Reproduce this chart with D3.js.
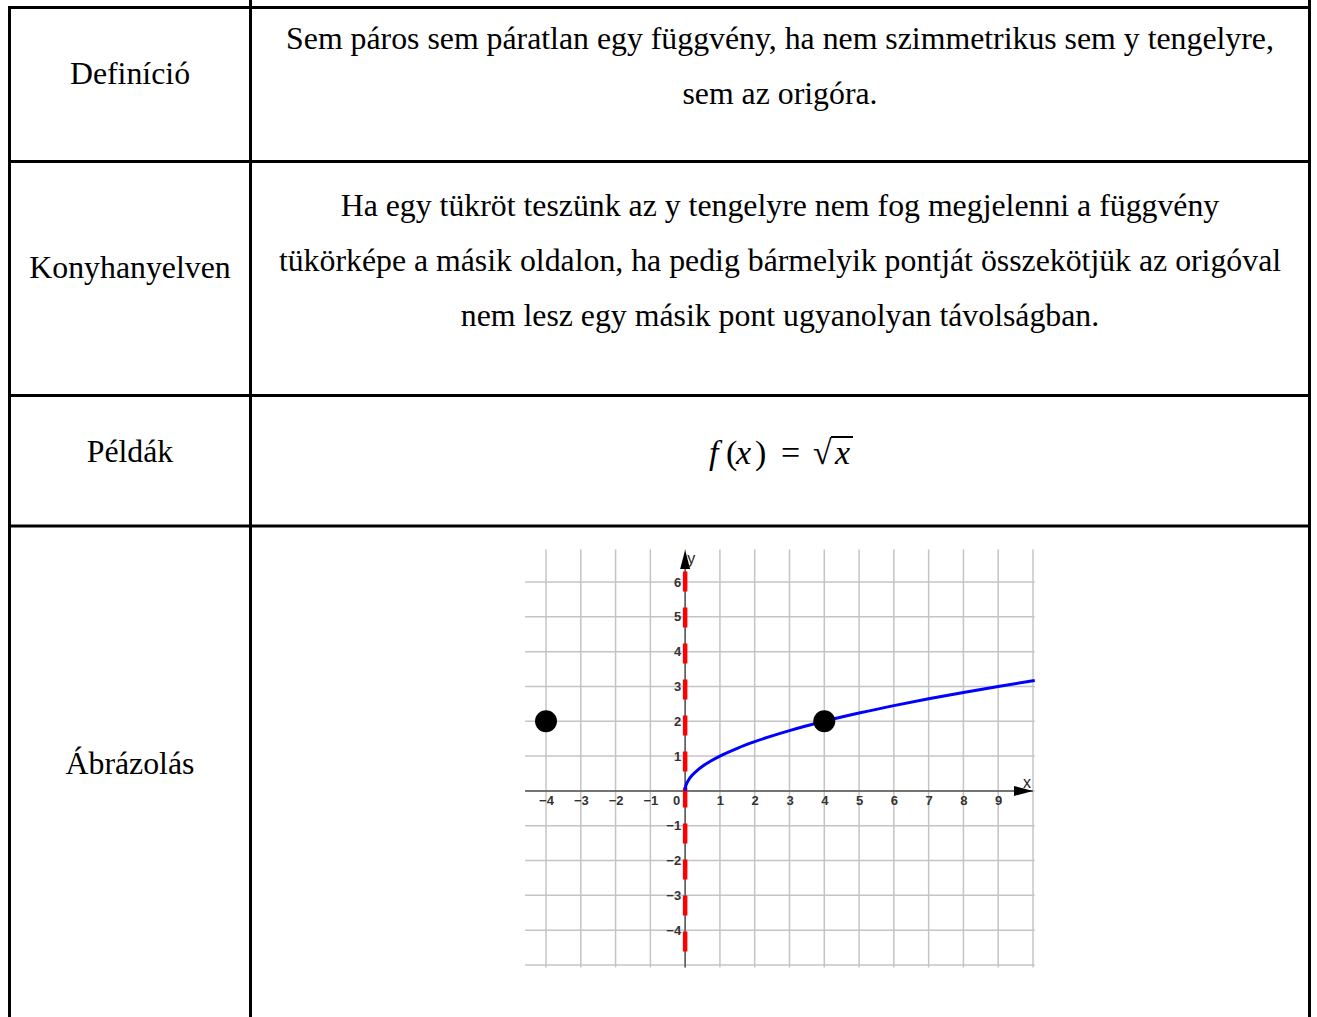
<!DOCTYPE html>
<html>
<head>
<meta charset="utf-8">
<script src="https://cdn.jsdelivr.net/npm/d3@7"></script>
<style>
  body { margin: 0; background: white; }
</style>
</head>
<body>
<div id="canvas"></div>
<script>
var w = 1317;
var h = 1017;

// table contents
var rowLabels = ["Definíció", "Konyhanyelven", "Példák", "Ábrázolás"];
var defLines = [
    "Sem páros sem páratlan egy függvény, ha nem szimmetrikus sem y tengelyre,",
    "sem az origóra."
];
var kitchenLines = [
    "Ha egy tükröt teszünk az y tengelyre nem fog megjelenni a függvény",
    "tükörképe a másik oldalon, ha pedig bármelyik pontját összekötjük az origóval",
    "nem lesz egy másik pont ugyanolyan távolságban."
];

// graph data
var xGrid = [-4, -3, -2, -1, 0, 1, 2, 3, 4, 5, 6, 7, 8, 9, 10];
var yGrid = [-5, -4, -3, -2, -1, 0, 1, 2, 3, 4, 5, 6];
var xTickLabels = [-4, -3, -2, -1, 0, 1, 2, 3, 4, 5, 6, 7, 8, 9];
var yTickLabels = [-4, -3, -2, -1, 1, 2, 3, 4, 5, 6];
var curveX = [0, 0.01, 0.05, 0.1, 0.2, 0.35, 0.5, 0.75, 1, 1.5, 2, 2.5, 3, 4, 5, 6, 7, 8, 9, 10, 10.05];
var dots = [{ x: -4, y: 2 }, { x: 4, y: 2 }];
var redLine = [6.3, -4.8];

var canvas = d3.select("#canvas")
    .append("svg")
    .attr("width", w)
    .attr("height", h)
    .style("background-color", "white");

var serif = "'Liberation Serif', 'Times New Roman', serif";
var fs = 31.8;

// table frame
var rowY = [7.5, 161.5, 395.5, 526];
var colX = [9.5, 250.5, 1309.5];

canvas.selectAll(".hline")
    .data(rowY)
    .join("line")
    .attr("class", "hline")
    .attr("x1", 8).attr("x2", 1311)
    .attr("y1", d => d).attr("y2", d => d)
    .attr("stroke", "black")
    .attr("stroke-width", 3);

canvas.selectAll(".vline")
    .data(colX)
    .join("line")
    .attr("class", "vline")
    .attr("x1", d => d).attr("x2", d => d)
    .attr("y1", (d, i) => i == 0 ? 6 : 0)
    .attr("y2", h)
    .attr("stroke", "black")
    .attr("stroke-width", 3);

function addText(x, y, text, size, anchor) {
    return canvas.append("text")
        .attr("x", x)
        .attr("y", y)
        .text(text)
        .attr("font-family", serif)
        .attr("font-size", size)
        .attr("text-anchor", anchor)
        .attr("fill", "black");
}

// left column labels
var labelY = [84, 278, 462, 774];
rowLabels.forEach(function (t, i) {
    addText(130, labelY[i], t, fs, "middle");
});

// right column text
defLines.forEach(function (t, i) {
    addText(780, 49 + i * 55, t, fs, "middle");
});
kitchenLines.forEach(function (t, i) {
    addText(780, 216 + i * 55, t, fs, "middle");
});

// formula f(x) = sqrt(x), glyph by glyph like the equation editor
var formulaParts = [
    { t: "f", x: 709, it: true },
    { t: "(", x: 726, it: false },
    { t: "x", x: 736, it: true },
    { t: ")", x: 755, it: false },
    { t: "=", x: 781, it: false },
    { t: "√", x: 813, it: false },
    { t: "x", x: 835, it: true }
];
formulaParts.forEach(function (p) {
    canvas.append("text")
        .attr("x", p.x)
        .attr("y", 464)
        .text(p.t)
        .attr("font-family", serif)
        .attr("font-size", 34)
        .attr("font-style", p.it ? "italic" : "normal")
        .attr("fill", "black");
});
canvas.append("line")
    .attr("x1", 831).attr("x2", 853)
    .attr("y1", 437).attr("y2", 437)
    .attr("stroke", "black")
    .attr("stroke-width", 2);

// graph
var x = d3.scaleLinear().domain([-4, 10]).range([546, 1033]);
var y = d3.scaleLinear().domain([-5, 6]).range([965, 582]);

var g = canvas.append("g");

g.selectAll(".gx")
    .data(xGrid)
    .join("line")
    .attr("x1", d => x(d)).attr("x2", d => x(d))
    .attr("y1", y(6.93)).attr("y2", y(-5.07))
    .attr("stroke", "#c4c4c4")
    .attr("stroke-width", 1.5);

g.selectAll(".gy")
    .data(yGrid)
    .join("line")
    .attr("x1", x(-4.6)).attr("x2", x(10.05))
    .attr("y1", d => y(d)).attr("y2", d => y(d))
    .attr("stroke", "#c4c4c4")
    .attr("stroke-width", 1.5);

// axes lines
g.append("line")
    .attr("x1", x(-4.6)).attr("x2", x(10))
    .attr("y1", y(0)).attr("y2", y(0))
    .attr("stroke", "#555")
    .attr("stroke-width", 1.5);
g.append("line")
    .attr("x1", x(0)).attr("x2", x(0))
    .attr("y1", y(-5.07)).attr("y2", y(6.8))
    .attr("stroke", "#555")
    .attr("stroke-width", 1.5);

// arrow heads
g.append("path")
    .attr("d", "M" + x(10) + "," + y(0) + " L" + (x(10) - 19) + "," + (y(0) - 5) + " L" + (x(10) - 19) + "," + (y(0) + 5) + "Z")
    .attr("fill", "black");
g.append("path")
    .attr("d", "M" + x(0) + "," + y(6.92) + " L" + (x(0) - 5) + "," + (y(6.92) + 19) + " L" + (x(0) + 5) + "," + (y(6.92) + 19) + "Z")
    .attr("fill", "black");

g.append("text")
    .attr("x", x(10) - 10).attr("y", y(0) - 3)
    .text("x")
    .attr("font-family", "'Liberation Sans', Arial, sans-serif")
    .attr("font-size", 16)
    .attr("fill", "#222");
g.append("text")
    .attr("x", x(0) + 2).attr("y", y(6.92) + 14)
    .text("y")
    .attr("font-family", "'Liberation Sans', Arial, sans-serif")
    .attr("font-size", 16)
    .attr("fill", "#222");

// tick labels through d3 axes
var xAxis = g.append("g")
    .attr("transform", "translate(0," + y(0) + ")")
    .call(d3.axisBottom(x).tickValues(xTickLabels).tickSize(0).tickPadding(5));
xAxis.select(".domain").remove();
xAxis.selectAll(".tick")
    .filter(d => d == 0)
    .select("text")
    .attr("dx", -9);

var yAxis = g.append("g")
    .attr("transform", "translate(" + (x(0) - 4) + ",0)")
    .call(d3.axisLeft(y).tickValues(yTickLabels).tickSize(0).tickPadding(0));
yAxis.select(".domain").remove();

g.selectAll(".tick text")
    .attr("font-family", "'Liberation Sans', Arial, sans-serif")
    .attr("font-size", 13)
    .attr("font-weight", "bold")
    .attr("fill", "#333");

// red dashed line on the y axis
g.append("line")
    .attr("x1", x(0)).attr("x2", x(0))
    .attr("y1", y(redLine[0])).attr("y2", y(redLine[1]))
    .attr("stroke", "#ff0000")
    .attr("stroke-width", 4.5)
    .attr("stroke-dasharray", "20,16");

// sqrt curve
var line = d3.line()
    .x(d => x(d))
    .y(d => y(Math.sqrt(d)))
    .curve(d3.curveMonotoneX);
g.append("path")
    .datum(curveX)
    .attr("d", line)
    .attr("fill", "none")
    .attr("stroke", "#0000ff")
    .attr("stroke-width", 3);

// points
g.selectAll(".dot")
    .data(dots)
    .join("circle")
    .attr("cx", d => x(d.x))
    .attr("cy", d => y(d.y))
    .attr("r", 11)
    .attr("fill", "black");
</script>
</body>
</html>
